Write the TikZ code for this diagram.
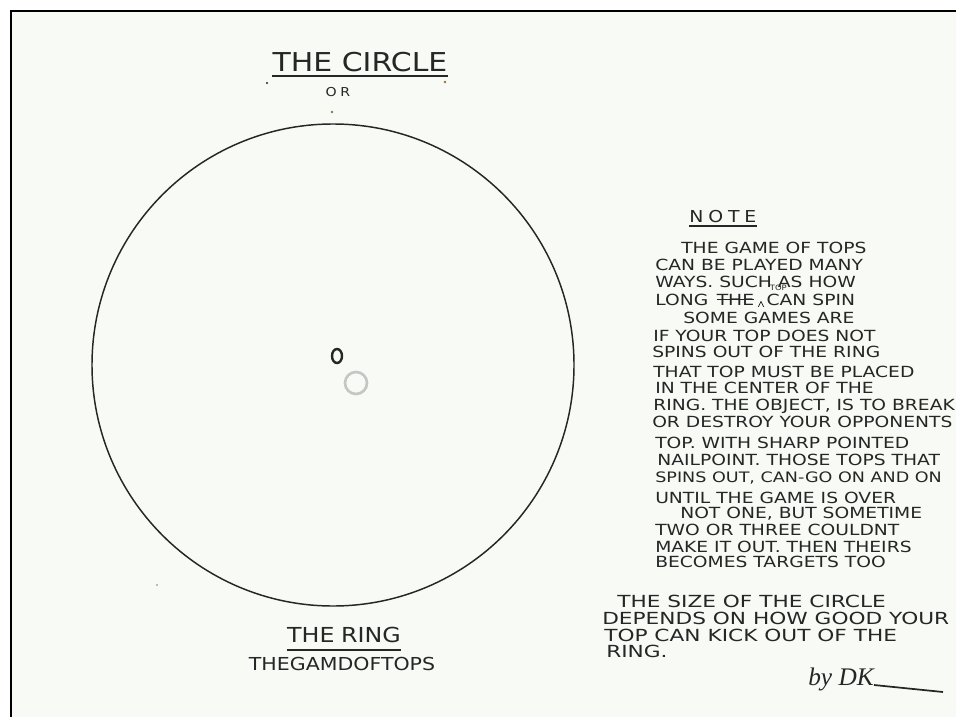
\documentclass[tikz,border=0pt]{standalone}
\usepackage{fontspec}
\setmainfont{DejaVu Sans}
\newfontfamily\handfont[FakeStretch=1.15]{DejaVu Sans}
\newfontfamily\notefont[FakeStretch=1.22]{DejaVu Sans}
\newfontfamily\widefont[FakeStretch=1.3]{DejaVu Sans}
\newfontfamily\spacedfont[FakeStretch=1.15,LetterSpace=30]{DejaVu Sans}
\newfontfamily\signfont{Liberation Serif}
\usetikzlibrary{positioning}
\definecolor{paper}{RGB}{248,251,245}
\definecolor{pencil}{RGB}{38,38,38}
\definecolor{speck}{RGB}{150,110,60}

\begin{document}
\begin{tikzpicture}[
  x=0.75pt, y=-0.75pt,
  node distance=6pt,
  pencil line/.style={draw=pencil, line width=1.1pt},
  uline/.style={draw=pencil, line width=2pt},
  bigtitle/.style={inner sep=0pt, text=pencil, font=\handfont\fontsize{19.5}{22}\selectfont},
  subtitle/.style={inner sep=0pt, text=pencil, font=\handfont\fontsize{15.5}{18}\selectfont},
  smalltitle/.style={inner sep=0pt, text=pencil, font=\spacedfont\fontsize{9.2}{11}\selectfont},
  noteline/.style={anchor=base west, inner sep=0pt, text=pencil, font=\notefont\fontsize{11.5}{13}\selectfont},
  bigline/.style={noteline, font=\widefont\fontsize{12.5}{15}\selectfont},
  inserted/.style={inner sep=0pt, text=pencil, font=\handfont\fontsize{5.5}{6}\selectfont}
]
% sheet
\useasboundingbox (0,0) rectangle (956,717);
\fill[white] (0,0) rectangle (956,717);
\fill[paper] (11,11) rectangle (956,717);
\draw[black, line width=1.5pt] (11,717) -- (11,11) -- (956,11);

% headings
\node[bigtitle, anchor=base] (circletitle) at (360,72) {THE CIRCLE};
\draw[uline] ([yshift=-3pt]circletitle.base west) -- ([yshift=-3pt]circletitle.base east);
\node[smalltitle, anchor=base] (ortext) at (338,97) {OR};

% the ring
\coordinate (ringcentre) at (333,365);
\draw[pencil line] (ringcentre) circle[radius=180.75pt];
\coordinate (darktop) at (337,356);
\draw[pencil, line width=1.8pt] (darktop) circle[x radius=3.75pt, y radius=5.25pt];
\coordinate (greytop) at (356,383);
\draw[gray!45, line width=2pt] (greytop) circle[radius=8.25pt];

% specks
\fill[pencil] (267,83) circle[radius=0.8pt];
\fill[speck] (445,82) circle[radius=1pt];
\fill[speck] (332,112) circle[radius=1pt];
\fill[pencil!60] (157,585) circle[radius=0.7pt];

\node[subtitle, anchor=base] (ringtitle) at (344,642) {THE\hspace{5pt}RING};
\draw[uline] ([yshift=-6pt]ringtitle.base west) -- ([yshift=-6pt]ringtitle.base east);
\node[subtitle, font=\handfont\fontsize{13.4}{15}\selectfont, anchor=base] (gametitle) at (342,670) {THEGAMDOFTOPS};

% note
\node[noteline, font=\spacedfont\fontsize{12.3}{15}\selectfont] (note) at (689,222) {NOTE};
\draw[pencil, line width=1pt] ([yshift=-3pt]note.base west) -- ([yshift=-3pt]note.base east);
\node[noteline] (n1) at (681,253) {THE GAME OF TOPS};
\node[noteline] (n2) at (655,270) {CAN BE PLAYED MANY};
\node[noteline] (n3) at (655,287) {WAYS. SUCH AS HOW};
\node[noteline] (long) at (655,305) {LONG};
\node[noteline, right=6pt of long] (strikethe) {THE};
\node[noteline, right=9pt of strikethe] (canspin) {CAN SPIN};
\draw[pencil, line width=0.8pt] (strikethe.west) -- (strikethe.east);
\node[inserted, above=1.5pt of canspin.north west, xshift=9pt] (topins) {TOP};
\draw[pencil, line width=0.6pt] ([xshift=-6pt,yshift=-1pt]canspin.south west) -- ([xshift=-4pt,yshift=3pt]canspin.south west) -- ([xshift=-2pt,yshift=-1pt]canspin.south west);
\node[noteline] (n5) at (683,323) {SOME GAMES ARE};
\node[noteline] (n6) at (653,341) {IF YOUR TOP DOES NOT};
\node[noteline] (n7) at (652,357) {SPINS OUT OF THE RING};
\node[noteline] (n8) at (653,377) {THAT TOP MUST BE PLACED};
\node[noteline] (n9) at (655,393) {IN THE CENTER OF THE};
\node[noteline] (n10) at (653,410) {RING. THE OBJECT, IS TO BREAK};
\node[noteline] (n11) at (652,427) {OR DESTROY YOUR OPPONENTS};
\node[noteline] (n12) at (655,448) {TOP. WITH SHARP POINTED};
\node[noteline] (n13) at (657,465) {NAILPOINT. THOSE TOPS THAT};
\node[noteline, font=\notefont\fontsize{10.8}{13}\selectfont] (n14) at (655,482) {SPINS OUT, CAN-GO ON AND ON};
\node[noteline] (n15) at (655,503) {UNTIL THE GAME IS OVER};
\node[noteline] (n16) at (680,518) {NOT ONE, BUT SOMETIME};
\node[noteline] (n17) at (655,535) {TWO OR THREE COULDNT};
\node[noteline] (n18) at (655,552) {MAKE IT OUT. THEN THEIRS};
\node[noteline] (n19) at (655,567) {BECOMES TARGETS TOO};

% size remark
\node[bigline] (s1) at (617,607) {THE SIZE OF THE CIRCLE};
\node[bigline] (s2) at (602,624) {DEPENDS ON HOW GOOD YOUR};
\node[bigline] (s3) at (604,641) {TOP CAN KICK OUT OF THE};
\node[bigline] (s4) at (606,657) {RING.};

% signature
\node[anchor=base west, inner sep=0pt, text=pencil, font=\signfont\itshape\fontsize{19}{22}\selectfont] (byline) at (808,685) {by DK};
\coordinate (signend) at (943,692);
\draw[pencil, line width=1.3pt] (byline.base east) -- (signend);
\end{tikzpicture}
\end{document}
